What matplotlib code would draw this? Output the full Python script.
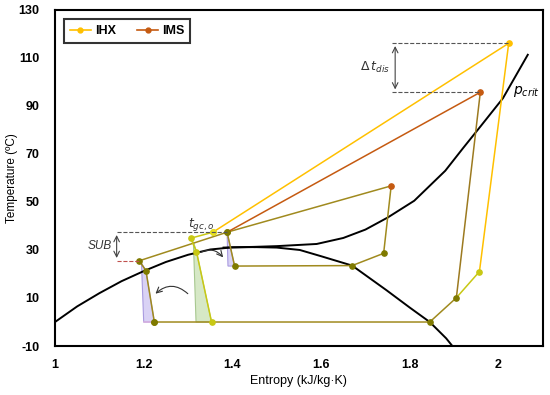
import matplotlib.pyplot as plt
from matplotlib.patches import Polygon

plt.rcParams["axes.unicode_minus"] = False

# saturation dome and critical isobar
liq_s = [1.0, 1.05, 1.1, 1.15, 1.2, 1.25, 1.3, 1.35, 1.4, 1.45]
liq_t = [0, 6.5, 12, 17, 21.2, 25, 28, 30.2, 31.1, 31.2]
vap_s = [1.45, 1.5, 1.552, 1.6, 1.67, 1.747, 1.8, 1.845, 1.882, 1.896]
vap_t = [31.2, 31.0, 30.0, 27.4, 23.5, 13.3, 6.0, 0, -6.8, -10]
crit_s = [1.38, 1.45, 1.5, 1.59, 1.65, 1.7, 1.75, 1.81, 1.88, 1.92, 1.96, 2.01, 2.066]
crit_t = [31.0, 31.3, 31.6, 32.5, 35.0, 38.5, 43.5, 50.5, 63.0, 72.4, 81.6, 93.2, 111.3]

# IHX cycle
ihx_gc_s = [1.957, 2.023, 1.356]
ihx_gc_t = [21.0, 116.1, 37.4]
ihx_exp_s = [1.356, 1.306, 1.319, 1.353]
ihx_exp_t = [37.4, 34.9, 29.3, 0.0]
ihx_suc_s = [1.905, 1.957]
ihx_suc_t = [10.1, 21.0]

# IMS cycle
ims_comp_s = [1.905, 1.959]
ims_comp_t = [10.1, 95.7]
ims_gc_s = [1.959, 1.388]
ims_gc_t = [95.7, 37.4]
ims_sub_s = [1.388, 1.19, 1.205, 1.224]
ims_sub_t = [37.4, 25.5, 21.4, 0.0]
evap_s = [1.224, 1.845, 1.905]
evap_t = [0.0, 0.0, 10.1]

# mechanical subcooling cycle
msc_s = [1.388, 1.405, 1.67, 1.741, 1.758, 1.388]
msc_t = [37.4, 23.3, 23.5, 28.6, 56.7, 37.4]

gold = "#FFC000"
orange = "#C55A11"
olive = "#7F7A00"
oline = "#A08A1E"
ygreen = "#C8C814"
fam = ["Liberation Sans", "DejaVu Sans"]

fig = plt.figure(figsize=(5.5, 3.95), dpi=100)
ax = fig.add_axes([0.1, 0.124, 0.887, 0.851])

ax.plot(liq_s, liq_t, color="black", lw=1.4)
ax.plot(vap_s, vap_t, color="black", lw=1.4)
ax.plot(crit_s, crit_t, color="black", lw=1.4)

# shaded throttling triangles
ax.add_patch(Polygon([(1.195, 24.5), (1.2, 0), (1.224, 0), (1.205, 21.4)],
                     closed=True, fc="#D9D2F5", ec="#A99BE0", lw=0.8))
ax.add_patch(Polygon([(1.388, 37.4), (1.39, 23.3), (1.405, 23.3)],
                     closed=True, fc="#D9D2F5", ec="#A99BE0", lw=0.8))
ax.add_patch(Polygon([(1.312, 33.5), (1.318, 0), (1.353, 0), (1.319, 29.3)],
                     closed=True, fc="#D6E8C6", ec="#A8C890", lw=0.8))

ax.plot(evap_s, evap_t, color=oline, lw=1.1)
ax.plot([1.2, 1.224], [0, 0], color="#D8B0E0", lw=1.1)
ax.plot(msc_s, msc_t, color=oline, lw=1.1)
ax.plot(ims_sub_s, ims_sub_t, color=oline, lw=1.1)
ax.plot(ims_comp_s, ims_comp_t, color="#9C7A20", lw=1.1)
ax.plot(ims_gc_s, ims_gc_t, color=orange, lw=1.1)
ax.plot(ihx_exp_s, ihx_exp_t, color=ygreen, lw=1.1)
ax.plot(ihx_suc_s, ihx_suc_t, color=ygreen, lw=1.1)
ax.plot(ihx_gc_s, ihx_gc_t, color=gold, lw=1.1)

# points
ms = 3.8
ax.plot(evap_s, evap_t, "o", color=olive, ms=ms)
ax.plot(msc_s[:4], msc_t[:4], "o", color=olive, ms=ms)
ax.plot(ims_sub_s, ims_sub_t, "o", color=olive, ms=ms)
ax.plot([msc_s[4]], [msc_t[4]], "o", color=orange, ms=ms)
ax.plot([ims_comp_s[1]], [ims_comp_t[1]], "o", color=orange, ms=ms)
ax.plot(ihx_exp_s, ihx_exp_t, "o", color=ygreen, ms=ms)
ax.plot([ihx_suc_s[1]], [ihx_suc_t[1]], "o", color=ygreen, ms=ms)
ax.plot([ihx_gc_s[1]], [ihx_gc_t[1]], "o", color=gold, ms=ms)
ax.plot([ihx_gc_s[2]], [ihx_gc_t[2]], "o", color="#E8E020", ms=ms)

# legend handles
ax.plot([], [], "-o", color=gold, ms=3.5, lw=1.2, label="IHX")
ax.plot([], [], "-o", color=orange, ms=3.5, lw=1.2, label="IMS")
leg = ax.legend(loc="upper left", bbox_to_anchor=(0.006, 0.99), ncol=2,
                frameon=True, fancybox=False, handlelength=1.7, handletextpad=0.3,
                columnspacing=1.7, borderpad=0.45,
                prop={"family": fam, "weight": "bold", "size": 9})
leg.get_frame().set_edgecolor("black")
leg.get_frame().set_linewidth(1.5)

# annotations
ax.plot([1.139, 1.388], [37.4, 37.4], ls="--", color="#555555", lw=0.8)
ax.plot([1.139, 1.19], [25.5, 25.5], ls="--", color="#C0504D", lw=0.8)
ax.annotate("", xy=(1.139, 25.5), xytext=(1.139, 37.4),
            arrowprops=dict(arrowstyle="<->", color="#444444", lw=0.8))
ax.text(1.128, 31.5, "SUB", style="italic", fontsize=8.5, ha="right", va="center",
        color="#333333", family=fam)
ax.text(1.30, 40.5, "$t_{gc,o}$", fontsize=9, ha="left", va="center", color="#333333")

ax.plot([1.759, 2.023], [116.1, 116.1], ls="--", color="#555555", lw=0.8)
ax.plot([1.759, 1.959], [95.7, 95.7], ls="--", color="#555555", lw=0.8)
ax.annotate("", xy=(1.767, 95.7), xytext=(1.767, 116.1),
            arrowprops=dict(arrowstyle="<->", color="#444444", lw=0.8))
ax.text(1.755, 106, r"$\Delta\,t_{dis}$", fontsize=9, ha="right", va="center",
        color="#333333")
ax.text(2.033, 96, "$p_{crit}$", fontsize=10, ha="left", va="center")

ax.annotate("", xy=(1.222, 11.0), xytext=(1.304, 11.0),
            arrowprops=dict(arrowstyle="->", color="#333333", lw=0.8,
                            connectionstyle="arc3,rad=0.5"))
ax.annotate("", xy=(1.383, 26.0), xytext=(1.323, 28.5),
            arrowprops=dict(arrowstyle="->", color="#333333", lw=0.8,
                            connectionstyle="arc3,rad=-0.45"))

ax.set_xlim(1, 2.1)
ax.set_ylim(-10, 130)
ax.set_xticks([1, 1.2, 1.4, 1.6, 1.8, 2])
ax.set_xticklabels(["1", "1.2", "1.4", "1.6", "1.8", "2"])
ax.set_yticks(range(-10, 131, 20))
ax.tick_params(length=0)
ax.tick_params(axis="x", pad=9)
ax.tick_params(axis="y", pad=11)
for lab in ax.get_xticklabels() + ax.get_yticklabels():
    lab.set_fontweight("bold")
    lab.set_fontsize(9)
    lab.set_family(fam)
for sp in ax.spines.values():
    sp.set_linewidth(1.5)

ax.set_xlabel("Entropy (kJ/kg·K)", fontsize=9, family=fam, labelpad=3)
ax.set_ylabel("Temperature (ºC)", fontsize=8.5, family=fam)
ax.yaxis.set_label_coords(-0.075, 0.5)

plt.savefig("out.png")
